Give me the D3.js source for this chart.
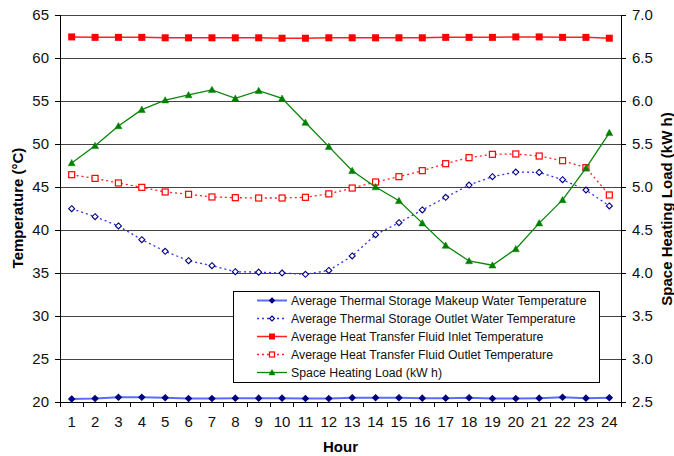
<!DOCTYPE html>
<html><head><meta charset="utf-8">
<script src="https://cdn.jsdelivr.net/npm/d3@7"></script>
<style>body{margin:0;background:#fff}svg{display:block;font-family:"Liberation Sans",Arial,sans-serif}</style>
</head><body><svg id="c" width="674" height="456"></svg>
<script>
const hours = d3.range(1, 25).map(String);
const makeupWater = [20.35,20.4,20.55,20.55,20.5,20.4,20.4,20.45,20.45,20.45,20.4,20.4,20.5,20.5,20.5,20.45,20.45,20.5,20.4,20.4,20.45,20.55,20.45,20.5];
const outletWater = [42.48,41.55,40.47,38.87,37.52,36.43,35.85,35.15,35.1,35.0,34.85,35.3,36.98,39.45,40.85,42.33,43.8,45.23,46.2,46.74,46.7,45.85,44.65,42.8];
const fluidInlet = [62.45,62.4,62.4,62.4,62.35,62.35,62.35,62.35,62.35,62.3,62.3,62.35,62.35,62.35,62.35,62.35,62.4,62.4,62.4,62.45,62.45,62.4,62.4,62.3];
const fluidOutlet = [46.43,46.0,45.47,44.96,44.42,44.15,43.84,43.76,43.72,43.72,43.8,44.2,44.88,45.58,46.2,46.9,47.71,48.41,48.8,48.84,48.6,48.06,47.25,44.07];
const heatingLoad = [5.28,5.48,5.71,5.90,6.01,6.07,6.13,6.03,6.12,6.03,5.75,5.47,5.19,5.0,4.84,4.58,4.32,4.14,4.09,4.28,4.58,4.85,5.22,5.63];
const leftTicks = [20,25,30,35,40,45,50,55,60,65];
const rightTicks = [2.5,3.0,3.5,4.0,4.5,5.0,5.5,6.0,6.5,7.0];
const seriesNames = ["Average Thermal Storage Makeup Water Temperature","Average Thermal Storage Outlet Water Temperature","Average Heat Transfer Fluid Inlet Temperature","Average Heat Transfer Fluid Outlet Temperature","Space Heating Load (kW h)"];
const titles = {x:"Hour", yLeft:"Temperature (°C)", yRight:"Space Heating Load (kW h)"};

const svg = d3.select("#c");
const L=60, R=621, T=15, B=402;
const x = d3.scaleBand().domain(hours).range([L,R]);
const yL = d3.scaleLinear().domain([20,65]).range([B,T]);
const yR = d3.scaleLinear().domain([2.5,7.0]).range([B,T]);
const cx = h => x(h) + x.bandwidth()/2;

// gridlines
svg.append("g").selectAll("line").data(leftTicks.slice(1)).join("line")
  .attr("x1",L).attr("x2",R).attr("y1",d=>yL(d)).attr("y2",d=>yL(d))
  .attr("stroke","#444").attr("stroke-width",1).attr("shape-rendering","crispEdges");

// axes
const ax = svg.append("g").attr("transform",`translate(0,${B})`)
  .call(d3.axisBottom(x).tickSize(0).tickPadding(14));
ax.select(".domain").attr("stroke","#000");
ax.selectAll("text").attr("font-size",15).attr("fill","#111").attr("font-family","Liberation Sans, Arial");
svg.append("g").selectAll("line").data(d3.range(0,25)).join("line")
  .attr("x1",i=>L+i*x.step()).attr("x2",i=>L+i*x.step()).attr("y1",B).attr("y2",B+5)
  .attr("stroke","#000").attr("shape-rendering","crispEdges");

const ayL = svg.append("g").attr("transform",`translate(${L},0)`)
  .call(d3.axisLeft(yL).tickValues(leftTicks).tickSize(5).tickPadding(6).tickFormat(d3.format("d")));
const ayR = svg.append("g").attr("transform",`translate(${R},0)`)
  .call(d3.axisRight(yR).tickValues(rightTicks).tickSize(5).tickPadding(6).tickFormat(d3.format(".1f")));
[ayL,ayR].forEach(a=>{
  a.selectAll("text").attr("font-size",15).attr("fill","#111").attr("font-family","Liberation Sans, Arial");
  a.select(".domain").attr("stroke","#000");
  a.selectAll(".tick line").attr("stroke","#000");
  a.selectAll("path,line").attr("shape-rendering","crispEdges");
});

// titles
svg.append("text").attr("x",(L+R)/2).attr("y",452).attr("text-anchor","middle")
  .attr("font-weight","bold").attr("font-size",15).text(titles.x);
svg.append("text").attr("transform","translate(23,208) rotate(-90)").attr("text-anchor","middle")
  .attr("font-weight","bold").attr("font-size",15).text(titles.yLeft);
svg.append("text").attr("transform","translate(672,209) rotate(-90)").attr("text-anchor","middle")
  .attr("font-weight","bold").attr("font-size",15).text(titles.yRight);

// series
const series = [
  {name:seriesNames[0], data:makeupWater, y:yL, line:"#5a6cff", lw:2, dash:null, marker:"diamond", mfill:"#000080", mstroke:"#000080", ms:5},
  {name:seriesNames[1], data:outletWater, y:yL, line:"#3333ee", lw:1.3, dash:"2,3", marker:"diamond", mfill:"#fff", mstroke:"#000080", ms:5},
  {name:seriesNames[2], data:fluidInlet, y:yL, line:"#ff2020", lw:1.5, dash:null, marker:"square", mfill:"#ff0000", mstroke:"#ff0000", ms:7},
  {name:seriesNames[3], data:fluidOutlet, y:yL, line:"#ff2020", lw:1.3, dash:"2,3", marker:"square", mfill:"#fff", mstroke:"#ff0000", ms:7},
  {name:seriesNames[4], data:heatingLoad, y:yR, line:"#0a850a", lw:1.3, dash:null, marker:"triangle", mfill:"#008000", mstroke:"#008000", ms:7},
];
function drawMarker(g, type, px, py, s, fill, stroke){
  if(type==="square"){
    const h = fill==="#fff" ? s-1 : s;
    g.append("rect").attr("x",px-h/2).attr("y",py-h/2).attr("width",h).attr("height",h)
      .attr("fill",fill).attr("stroke",stroke).attr("stroke-width",fill==="#fff"?1.2:0);
  } else if(type==="diamond"){
    const h=s/2+0.5;
    g.append("path").attr("d",`M${px},${py-h}L${px+h},${py}L${px},${py+h}L${px-h},${py}Z`)
      .attr("fill",fill).attr("stroke",stroke).attr("stroke-width",1.1);
  } else {
    const h=s/2;
    g.append("path").attr("d",`M${px},${py-h}L${px+h},${py+h*0.8}L${px-h},${py+h*0.8}Z`)
      .attr("fill",fill).attr("stroke",stroke).attr("stroke-width",0.5);
  }
}
series.forEach(s=>{
  const line = d3.line().x((d,i)=>cx(hours[i])).y(d=>s.y(d));
  svg.append("path").datum(s.data).attr("d",line).attr("fill","none")
    .attr("stroke",s.line).attr("stroke-width",s.lw).attr("stroke-dasharray",s.dash);
  const g = svg.append("g");
  s.data.forEach((d,i)=>drawMarker(g,s.marker,cx(hours[i]),s.y(d),s.ms,s.mfill,s.mstroke));
});

// legend
const lg = svg.append("g");
lg.append("rect").attr("x",233.5).attr("y",291.5).attr("width",366).attr("height",91)
  .attr("fill","#fff").attr("stroke","#000").attr("stroke-width",1);
series.forEach((s,i)=>{
  const yy = 300.5 + i*18;
  lg.append("line").attr("x1",257).attr("x2",287).attr("y1",yy).attr("y2",yy)
    .attr("stroke",s.line).attr("stroke-width",s.lw).attr("stroke-dasharray",s.dash);
  drawMarker(lg,s.marker,272,yy,s.ms-1,s.mfill,s.mstroke);
  lg.append("text").attr("x",291).attr("y",yy+4.5).attr("font-size",12.3).attr("fill","#111").text(s.name);
});
</script></body></html>
